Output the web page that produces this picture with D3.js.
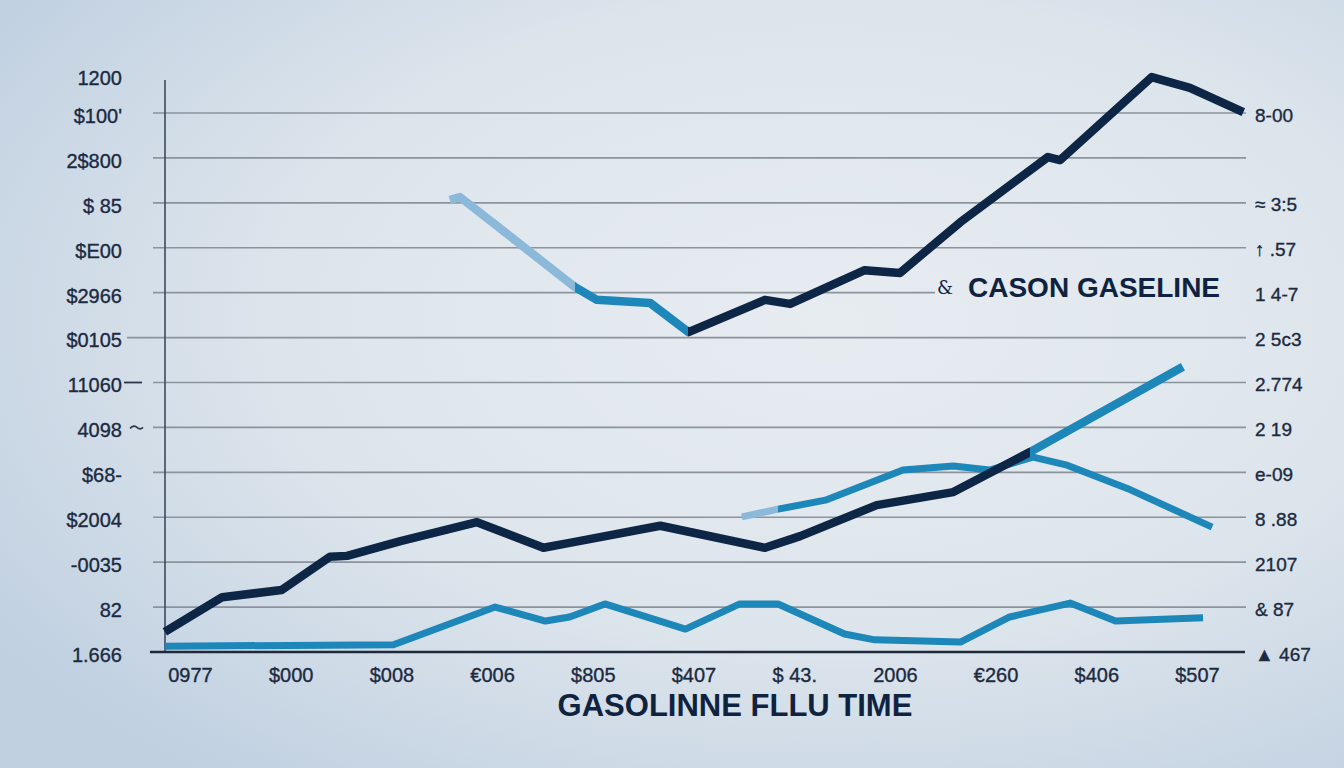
<!DOCTYPE html>
<html>
<head>
<meta charset="utf-8">
<script src="https://cdn.jsdelivr.net/npm/d3@7"></script>
<style>
html,body{margin:0;padding:0;overflow:hidden;}
svg{display:block;}
</style>
</head>
<body>
<script>
// ---------- DATA ----------
const xLabels = ["0977","$000","$008","€006","$805","$407","$ 43.","2006","€260","$406","$507"];
const xTickValues = [0,1,2,3,4,5,6,7,8,9,10];

const leftTickValues = [0,1,2,3,4,5,6,7,8,9,10,11,12,12.85];
const leftLabels = ["1.666","82","-0035","$2004","$68-","4098","11060","$0105","$2966","$E00","$ 85","2$800","$100'","1200"];

const rightTickValues = [0,1,2,3,4,5,6,7,8,9,10,11,12];
const rightLabels = ["▲ 467","& 87","2107","8 .88","e-09","2 19","2.774","2 5c3","1 4-7","↑ .57","≈ 3:5","","8-00"];

const titleText = "GASOLINNE FLLU TIME";
const legendText = "CASON GASELINE";

// series: [x (period index), value]
const upperSeries = [
  [2.58,10.06],[2.68,10.13],[3.82,8.13],[4.04,7.84],[4.57,7.77],[4.95,7.12],
  [5.71,7.84],[5.96,7.75],[6.70,8.50],[7.05,8.44],[7.65,9.57],[8.52,11.02],
  [8.64,10.95],[9.55,12.80],[9.93,12.56],[10.46,12.02]
];
const lowerDarkSeries = [
  [-0.25,0.45],[0.32,1.22],[0.91,1.38],[1.39,2.12],[1.56,2.14],[2.09,2.47],
  [2.85,2.89],[3.51,2.32],[3.77,2.43],[4.67,2.81],[5.71,2.32],[6.06,2.58],
  [6.82,3.27],[7.58,3.56],[8.34,4.45],[9.86,6.35]
];
const midBlueSeries = [
  [5.48,3.01],[5.84,3.18],[6.31,3.38],[7.08,4.05],[7.58,4.14],[7.94,4.05],
  [8.37,4.34],[8.71,4.16],[9.34,3.61],[10.15,2.78]
];
const bottomBlueSeries = [
  [-0.25,0.13],[2.02,0.16],[3.03,1.00],[3.53,0.69],[3.77,0.78],[4.12,1.07],
  [4.92,0.51],[5.46,1.07],[5.84,1.07],[6.50,0.40],[6.80,0.27],[7.65,0.22],
  [8.14,0.78],[8.74,1.09],[9.19,0.69],[10.06,0.76]
];

// ---------- STYLE ----------
const C = {
  navy: "#0e2646",
  blue: "#1d87b9",
  light: "#8cb8d9",
  text: "#1c2a3f",
  grid: "#8b939c"
};

const W = 1344, H = 768;
const svg = d3.select("body").append("svg").attr("width", W).attr("height", H);
const defs = svg.append("defs");

const bg = defs.append("radialGradient").attr("id","bg")
  .attr("cx","0.62").attr("cy","0.42").attr("r","0.75");
bg.append("stop").attr("offset","0").attr("stop-color","#e7ecf1");
bg.append("stop").attr("offset","0.55").attr("stop-color","#dde5ec");
bg.append("stop").attr("offset","1").attr("stop-color","#c0d0e1");
svg.append("rect").attr("width",W).attr("height",H).attr("fill","url(#bg)");

const x = d3.scaleLinear().domain([0,10]).range([190,1197]);
const y = d3.scaleLinear().domain([0,12]).range([652,113]);

// ---------- GRID ----------
const gridG = svg.append("g");
d3.range(1,13).forEach(v => {
  let x1 = 153, x2 = 1246;
  if (v === 7) x1 = 127;
  if (v === 8) x2 = 935;
  gridG.append("line").attr("x1",x1).attr("x2",x2)
    .attr("y1",y(v)).attr("y2",y(v))
    .attr("stroke",C.grid).attr("stroke-width",1.6);
});
// small stubs left
gridG.append("line").attr("x1",124).attr("x2",142).attr("y1",y(6)).attr("y2",y(6))
  .attr("stroke","#2a3548").attr("stroke-width",1.8);
gridG.append("path").attr("d",`M130,${y(5)+1} q4,-4 7,-1 q3,3 6,0`)
  .attr("fill","none").attr("stroke","#2a3548").attr("stroke-width",1.6);

// left vertical axis line
svg.append("line").attr("x1",165).attr("x2",165).attr("y1",80).attr("y2",y(0))
  .attr("stroke","#3b4a5d").attr("stroke-width",1.6);

// ---------- LINES ----------
const line = d3.line().x(d => x(d[0])).y(d => y(d[1])).curve(d3.curveLinear);

function hardGradient(id, stops) {
  const g = defs.append("linearGradient").attr("id", id)
    .attr("gradientUnits","userSpaceOnUse")
    .attr("x1", 0).attr("x2", W).attr("y1",0).attr("y2",0);
  stops.forEach((s, i) => {
    const off = x(s[0]) / W;
    if (i > 0) g.append("stop").attr("offset", off).attr("stop-color", stops[i-1][1]);
    g.append("stop").attr("offset", i === 0 ? 0 : off).attr("stop-color", s[1]);
  });
  return `url(#${id})`;
}

const upperStroke = hardGradient("gUpper", [[-1, C.light],[upperSeries[2][0], C.blue],[upperSeries[5][0], C.navy]]);
const lowerStroke = hardGradient("gLower", [[-1, C.navy],[lowerDarkSeries[14][0], C.blue]]);
const midStroke = hardGradient("gMid", [[-1, C.light],[midBlueSeries[1][0], C.blue]]);

svg.append("path").datum(bottomBlueSeries).attr("d", line)
  .attr("fill","none").attr("stroke", C.blue).attr("stroke-width", 7)
  .attr("stroke-linejoin","round");
svg.append("path").datum(midBlueSeries).attr("d", line)
  .attr("fill","none").attr("stroke", midStroke).attr("stroke-width", 7)
  .attr("stroke-linejoin","round");
svg.append("path").datum(lowerDarkSeries).attr("d", line)
  .attr("fill","none").attr("stroke", lowerStroke).attr("stroke-width", 8.5)
  .attr("stroke-linejoin","round");
svg.append("path").datum(upperSeries).attr("d", line)
  .attr("fill","none").attr("stroke", upperStroke).attr("stroke-width", 8.5)
  .attr("stroke-linejoin","round");

// baseline axis line
svg.append("line").attr("x1",150).attr("x2",1245).attr("y1",y(0)).attr("y2",y(0))
  .attr("stroke","#1e2a3a").attr("stroke-width",2.5);

// ---------- AXES ----------
const fontFam = "'Liberation Sans', Arial, sans-serif";
function styleText(sel, size) {
  sel.attr("font-family", fontFam).attr("font-size", size)
    .attr("fill", C.text).attr("stroke", C.text).attr("stroke-width", 0.35);
}

const leftAxis = svg.append("g").attr("transform","translate(165,3)")
  .call(d3.axisLeft(y).tickValues(leftTickValues)
    .tickFormat((d,i) => leftLabels[i]).tickSize(0).tickPadding(43));
leftAxis.select(".domain").remove();
styleText(leftAxis.selectAll("text"), 20);

const rightAxis = svg.append("g").attr("transform","translate(1246,2)")
  .call(d3.axisRight(y).tickValues(rightTickValues)
    .tickFormat((d,i) => rightLabels[i]).tickSize(0).tickPadding(9));
rightAxis.select(".domain").remove();
styleText(rightAxis.selectAll("text"), 19);

const bottomAxis = svg.append("g").attr("transform",`translate(0,${y(0)})`)
  .call(d3.axisBottom(x).tickValues(xTickValues)
    .tickFormat((d,i) => xLabels[i]).tickSize(0).tickPadding(16));
bottomAxis.select(".domain").remove();
styleText(bottomAxis.selectAll("text"), 20);

// ---------- TITLE & LEGEND ----------
svg.append("text").attr("x", 735).attr("y", 716).attr("text-anchor","middle")
  .attr("font-family", fontFam).attr("font-weight","bold").attr("font-size", 31)
  .attr("fill", "#0f2341").text(titleText);

svg.append("text").attr("x", 945).attr("y", 294).attr("text-anchor","middle")
  .attr("font-family", "'DejaVu Serif', serif").attr("font-size", 18)
  .attr("fill", "#0f2341").text("&");
svg.append("text").attr("x", 968).attr("y", 297)
  .attr("font-family", fontFam).attr("font-weight","bold").attr("font-size", 28)
  .attr("fill", "#0f2341").text(legendText);
</script>
</body>
</html>
